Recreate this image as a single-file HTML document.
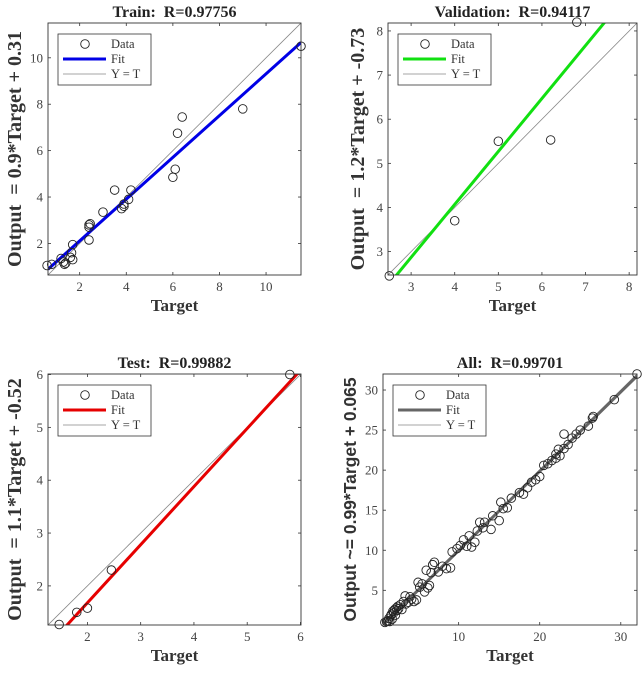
<!DOCTYPE html>
<html><head><meta charset="utf-8"><style>
html,body{margin:0;padding:0;background:#fff;}
svg{display:block;font-family:"Liberation Serif",serif;}
.yl,.ti{white-space:pre;}
</style></head><body>
<svg id="fig" width="644" height="676" viewBox="0 0 644 676"></svg>
<script>
// ---- data ----
const trainTarget=[0.6,0.8,1.2,1.3,1.35,1.4,1.6,1.65,1.7,1.7,2.4,2.4,2.45,2.4,3.0,3.5,3.8,3.9,3.9,4.1,4.2,6.0,6.1,6.2,6.4,9.0,11.5];
const trainOutput=[1.05,1.1,1.35,1.2,1.1,1.15,1.4,1.6,1.95,1.3,2.7,2.8,2.85,2.15,3.35,4.3,3.5,3.6,3.7,3.9,4.3,4.85,5.2,6.75,7.45,7.8,10.5];
const valTarget=[2.5,4.0,5.0,6.2,6.8];
const valOutput=[2.45,3.7,5.5,5.53,8.2];
const testTarget=[1.47,1.8,2.0,2.45,5.8];
const testOutput=[1.27,1.5,1.58,2.3,6.0];
const allTarget=[0.9,1.1,1.3,1.4,1.5,1.6,1.7,1.8,1.9,2.0,2.1,2.2,2.3,2.4,2.5,2.6,2.8,3.0,3.2,3.4,3.5,3.8,4.0,4.2,4.5,4.8,5.0,5.2,5.5,5.8,6.0,6.2,6.4,6.6,6.8,7.0,7.5,8.0,8.5,9.0,9.2,9.8,10.2,10.6,11.0,11.3,11.6,12.0,12.3,12.6,13.0,13.2,14.0,14.2,15.0,15.2,15.5,16.0,16.5,17.5,18.0,18.5,19.0,19.5,20.0,20.5,21.0,21.5,22.0,22.0,22.3,22.5,23.0,23.0,23.5,24.0,24.5,25.0,26.0,26.5,26.6,29.2,32.0];
const allOutput=[1.0,1.1,1.2,1.5,1.1,1.8,2.0,1.4,2.4,2.2,2.6,1.9,2.8,2.5,3.0,2.7,3.2,2.6,3.6,4.3,3.3,3.5,4.2,3.9,3.6,3.8,6.0,5.4,5.8,4.8,7.5,5.3,5.6,7.2,8.2,8.5,7.3,8.0,7.7,7.8,9.8,10.2,10.6,11.3,10.5,11.8,10.4,11.0,12.4,13.5,12.8,13.5,12.6,14.3,13.7,16.0,15.2,15.3,16.5,17.2,17.0,17.8,18.5,18.8,19.2,20.6,20.8,21.2,21.5,22.0,22.6,21.8,22.7,24.5,23.2,24.0,24.5,25.0,25.5,26.5,26.7,28.8,32.0];
const xTicksTrain=[2,4,6,8,10], yTicksTrain=[2,4,6,8,10];
const xTicksVal=[3,4,5,6,7,8], yTicksVal=[3,4,5,6,7,8];
const xTicksTest=[2,3,4,5,6], yTicksTest=[2,3,4,5,6];
const xTicksAll=[10,20,30], yTicksAll=[5,10,15,20,25,30];
const fitTrain=[0.9,0.31], fitVal=[1.2,-0.73], fitTest=[1.1,-0.52], fitAll=[0.99,0.065];

const NS="http://www.w3.org/2000/svg";
const svg=document.getElementById('fig');
function mk(tag,attrs,parent){const e=document.createElementNS(NS,tag);for(const k in attrs)e.setAttribute(k,attrs[k]);(parent||svg).appendChild(e);return e;}

function panel(p){
  const g=mk('g',{});
  
  
  const L=p.box[0],T=p.box[1],R=p.box[2],B=p.box[3];
  const sx=v=>L+(v-p.lim[0])/(p.lim[1]-p.lim[0])*(R-L);
  const sy=v=>B-(v-p.lim[0])/(p.lim[1]-p.lim[0])*(B-T);
  const cp=mk('clipPath',{id:'clip-'+p.key},g);
  mk('rect',{x:L,y:T,width:R-L,height:B-T},cp);
  p.xt.forEach(v=>{
    const x=sx(v);
    mk('line',{x1:x,y1:B,x2:x,y2:B-3,stroke:'#333','stroke-width':0.8},g);
    mk('line',{x1:x,y1:T,x2:x,y2:T+3,stroke:'#333','stroke-width':0.8},g);
    const lb=mk('text',{x:x,y:B+16,'text-anchor':'middle','font-size':13,fill:'#444'},g);
    lb.textContent=v;
    
    
  });
  p.yt.forEach(v=>{
    const y=sy(v);
    mk('line',{x1:L,y1:y,x2:L+3,y2:y,stroke:'#333','stroke-width':0.8},g);
    mk('line',{x1:R,y1:y,x2:R-3,y2:y,stroke:'#333','stroke-width':0.8},g);
    const lb=mk('text',{x:L-5,y:y+4.5,'text-anchor':'end','font-size':13,fill:'#444'},g);
    lb.textContent=v;
    
    
  });
  const inner=mk('g',{'clip-path':'url(#clip-'+p.key+')'},g);
  const yt=mk('line',{x1:sx(p.lim[0]),y1:sy(p.lim[0]),x2:sx(p.lim[1]),y2:sy(p.lim[1]),stroke:'#888','stroke-width':0.8},inner);
  
  
  const fl=mk('line',{x1:sx(p.lim[0]),y1:sy(p.fit[0]*p.lim[0]+p.fit[1]),x2:sx(p.lim[1]),y2:sy(p.fit[0]*p.lim[1]+p.fit[1]),stroke:p.color,'stroke-width':3},inner);
  
  
  p.tx.forEach((v,i)=>{
    const c=mk('circle',{cx:sx(v),cy:sy(p.ty[i]),r:4.3,fill:'none',stroke:'#222','stroke-width':0.9},g);
    
    
  });
  const bx=mk('rect',{x:L,y:T,width:R-L,height:B-T,fill:'none',stroke:'#333','stroke-width':0.9},g);
  
  
  const lg=mk('g',{transform:'translate('+(L+10)+','+(T+11)+')'},g);
  
  
  mk('rect',{x:0,y:0,width:93,height:51,fill:'#fff',stroke:'#333','stroke-width':0.8},lg);
  mk('circle',{cx:27,cy:10,r:4.3,fill:'none',stroke:'#222','stroke-width':0.9},lg);
  mk('line',{x1:5,y1:25,x2:48,y2:25,stroke:p.color,'stroke-width':3},lg);
  mk('line',{x1:5,y1:40,x2:48,y2:40,stroke:'#888','stroke-width':0.8},lg);
  [['Data',14],['Fit',29],['Y = T',44]].forEach(r=>{
    const t=mk('text',{x:53,y:r[1],'font-size':12.5,fill:'#333'},lg);t.textContent=r[0];
    
    
  });
  const ti=mk('text',{class:'ti',x:(L+R)/2,y:T-6,'text-anchor':'middle','font-size':16,'font-weight':'bold',fill:'#222'},g);
  ti.textContent=p.title;
  
  
  const xl=mk('text',{x:(L+R)/2,y:B+36,'text-anchor':'middle','font-size':17,'font-weight':'bold',fill:'#333'},g);
  xl.textContent='Target';
  
  
  const yc=(T+B)/2;
  const yl=mk('text',{class:'yl',x:p.ylx,y:yc,'text-anchor':'middle','font-size':p.ylfs,'font-weight':'bold',fill:'#333',transform:'rotate(-90 '+p.ylx+' '+yc+')'},g);
  if(p.ylsans)yl.setAttribute('font-family','"Liberation Sans",sans-serif');
  yl.textContent=p.ylabel;
  
  
}
panel({key:'train',box:[48,23,301,275],lim:[0.64,11.5],xt:xTicksTrain,yt:yTicksTrain,tx:trainTarget,ty:trainOutput,fit:fitTrain,color:'#0000e6',title:'Train:  R=0.97756',ylabel:'Output  = 0.9*Target + 0.31',ylx:21,ylfs:20});
panel({key:'validation',box:[388,23,637,275],lim:[2.47,8.18],xt:xTicksVal,yt:yTicksVal,tx:valTarget,ty:valOutput,fit:fitVal,color:'#11e011',title:'Validation:  R=0.94117',ylabel:'Output  = 1.2*Target + -0.73',ylx:364,ylfs:20});
panel({key:'test',box:[48,374,301,625],lim:[1.26,6.01],xt:xTicksTest,yt:yTicksTest,tx:testTarget,ty:testOutput,fit:fitTest,color:'#e60000',title:'Test:  R=0.99882',ylabel:'Output  = 1.1*Target + -0.52',ylx:21,ylfs:20});
panel({key:'all',box:[383,374,637,625],lim:[0.67,32],xt:xTicksAll,yt:yTicksAll,tx:allTarget,ty:allOutput,fit:fitAll,color:'#666666',title:'All:  R=0.99701',ylabel:'Output ~= 0.99*Target + 0.065',ylx:356,ylfs:17.5,ylsans:true});
</script>
</body></html>
